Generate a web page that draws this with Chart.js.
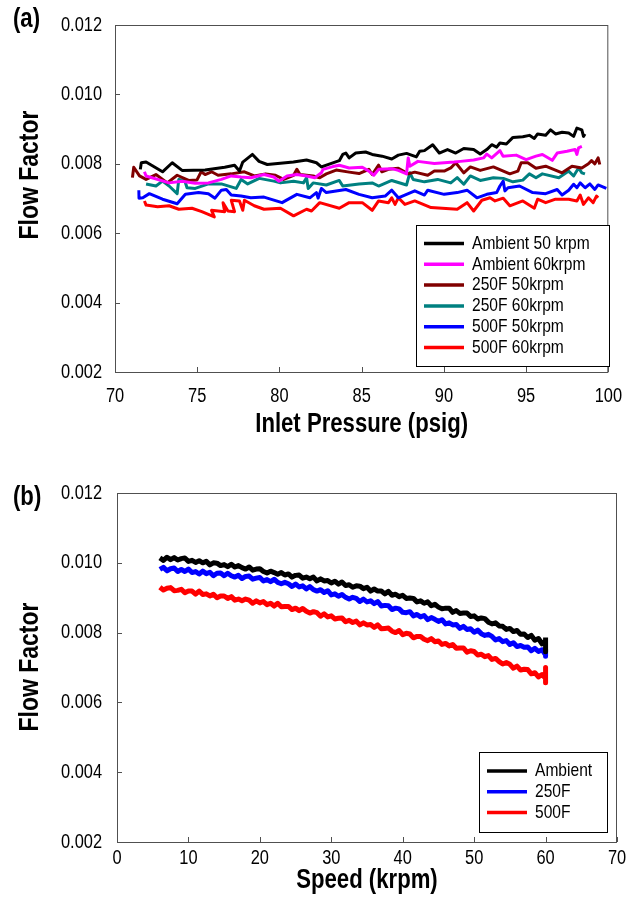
<!DOCTYPE html>
<html>
<head>
<meta charset="utf-8">
<script src="https://cdn.jsdelivr.net/npm/chart.js@4.4.0/dist/chart.umd.min.js"></script>
<style>
  body { margin: 0; background: #fff; width: 637px; height: 910px; position: relative; overflow: hidden; }
  canvas { position: absolute; left: 0; }
  #chartA { top: 0; }
  #chartB { top: 455px; }
  .panel { position: absolute; left: 13px; font-family: "Liberation Sans", Arial, sans-serif; font-weight: bold; font-size: 27px; line-height: 27px; color: #000; transform: scaleX(0.82); transform-origin: left top; }
</style>
</head>
<body>
<canvas id="chartA" width="637" height="455"></canvas>
<canvas id="chartB" width="637" height="455"></canvas>
<div class="panel" style="top:5px">(a)</div>
<div class="panel" style="top:483px">(b)</div>
<script>
// tick labels
const flowTicks = [0.002, 0.004, 0.006, 0.008, 0.010, 0.012];
const pressureTicks = [70, 75, 80, 85, 90, 95, 100];
const speedTicks = [0, 10, 20, 30, 40, 50, 60, 70];

// (a) flow factor vs inlet pressure
const amb50Psi = [71.54,71.60,71.89,72.89,73.48,74.08,75.48,76.67,77.27,77.57,77.77,78.36,78.76,79.26,80.85,81.65,82.25,82.55,83.64,83.85,84.04,84.24,84.64,85.24,85.64,86.24,86.83,87.23,87.73,88.33,88.53,88.82,89.32,89.72,90.22,90.72,91.21,91.81,92.21,92.61,92.91,93.21,93.41,93.80,94.20,94.80,95.20,95.50,95.70,96.19,96.49,96.79,97.19,97.59,97.89,98.09,98.39,98.49,98.58];
const amb50Flow = [0.00784,0.00803,0.00805,0.00777,0.00803,0.00781,0.00782,0.00790,0.00796,0.00779,0.00805,0.00827,0.00807,0.00798,0.00805,0.00811,0.00803,0.00791,0.00809,0.00827,0.00831,0.00817,0.00831,0.00834,0.00827,0.00822,0.00814,0.00825,0.00830,0.00820,0.00836,0.00838,0.00855,0.00831,0.00841,0.00831,0.00844,0.00841,0.00828,0.00841,0.00855,0.00848,0.00860,0.00857,0.00876,0.00878,0.00882,0.00873,0.00886,0.00882,0.00898,0.00886,0.00891,0.00889,0.00879,0.00903,0.00898,0.00879,0.00886];

const amb60Psi = [71.79,71.89,73.29,74.08,74.88,75.68,76.47,77.07,77.67,78.26,79.06,79.66,79.96,80.46,81.06,81.65,82.15,82.55,82.65,83.25,83.64,84.24,85.04,85.44,85.74,86.03,86.83,87.23,87.73,87.83,87.93,88.42,89.42,90.62,91.01,91.81,92.41,92.61,92.91,93.41,93.60,94.40,95.00,95.60,95.99,96.59,96.89,97.49,97.98,98.09,98.19,98.39];
const amb60Flow = [0.00777,0.00765,0.00745,0.00750,0.00744,0.00745,0.00755,0.00765,0.00762,0.00760,0.00769,0.00762,0.00750,0.00765,0.00769,0.00765,0.00760,0.00774,0.00784,0.00792,0.00796,0.00788,0.00790,0.00779,0.00767,0.00784,0.00786,0.00781,0.00771,0.00817,0.00793,0.00807,0.00801,0.00805,0.00807,0.00811,0.00817,0.00828,0.00817,0.00838,0.00822,0.00825,0.00812,0.00822,0.00827,0.00810,0.00831,0.00836,0.00841,0.00827,0.00846,0.00850];

const f250at50Psi = [71.06,71.14,71.49,71.89,72.49,73.18,73.78,74.48,74.98,75.24,75.48,75.87,76.27,77.07,77.87,78.47,79.16,79.76,80.26,80.86,81.06,81.25,82.05,82.45,82.85,83.45,84.24,84.84,85.44,85.64,86.03,86.23,86.63,87.23,87.83,88.23,89.02,89.42,90.02,90.42,90.72,91.21,91.61,92.21,93.01,94.01,94.50,94.70,95.10,95.60,96.19,97.19,97.79,98.39,98.79,98.98,99.18,99.38,99.48];
const f250at50Flow = [0.00760,0.00790,0.00765,0.00755,0.00769,0.00745,0.00767,0.00752,0.00753,0.00777,0.00769,0.00777,0.00767,0.00771,0.00777,0.00765,0.00771,0.00767,0.00755,0.00767,0.00784,0.00769,0.00765,0.00760,0.00771,0.00782,0.00776,0.00772,0.00784,0.00769,0.00796,0.00777,0.00784,0.00787,0.00771,0.00776,0.00767,0.00779,0.00779,0.00788,0.00803,0.00774,0.00791,0.00781,0.00791,0.00771,0.00779,0.00803,0.00803,0.00787,0.00793,0.00774,0.00793,0.00788,0.00800,0.00809,0.00800,0.00817,0.00798];

const f250at60Psi = [71.89,72.49,72.89,73.29,73.78,73.88,74.24,74.38,74.88,75.68,76.47,77.37,77.67,78.07,78.77,79.66,80.06,80.86,81.46,81.65,81.75,82.05,82.85,83.64,83.85,84.84,85.64,86.03,86.83,87.73,87.93,88.13,88.82,89.62,90.42,90.81,91.21,91.61,92.21,93.01,93.61,94.20,94.80,95.20,95.60,95.99,96.99,97.59,97.89,98.19,98.39,98.58];
const f250at60Flow = [0.00742,0.00736,0.00750,0.00736,0.00714,0.00755,0.00752,0.00731,0.00729,0.00742,0.00742,0.00729,0.00755,0.00742,0.00758,0.00750,0.00745,0.00750,0.00745,0.00760,0.00729,0.00745,0.00739,0.00752,0.00736,0.00742,0.00745,0.00736,0.00752,0.00739,0.00774,0.00755,0.00748,0.00755,0.00745,0.00760,0.00741,0.00765,0.00752,0.00760,0.00758,0.00748,0.00753,0.00771,0.00760,0.00771,0.00760,0.00779,0.00765,0.00788,0.00774,0.00771];

const f500at50Psi = [71.45,71.46,71.69,72.09,72.89,73.78,74.28,75.08,75.68,76.08,76.47,76.77,77.07,77.67,78.26,79.06,80.16,81.06,81.85,82.25,82.35,82.55,82.85,84.04,84.84,85.64,86.43,86.83,87.23,88.23,88.82,89.02,90.02,90.81,91.41,92.01,92.61,93.21,93.41,93.61,93.71,93.90,94.60,95.40,96.19,96.89,97.19,97.59,97.89,98.09,98.29,98.59,98.88,99.18,99.38,99.88];
const f500at50Flow = [0.00724,0.00701,0.00702,0.00714,0.00698,0.00685,0.00712,0.00717,0.00714,0.00701,0.00724,0.00726,0.00710,0.00707,0.00702,0.00704,0.00688,0.00712,0.00702,0.00717,0.00701,0.00729,0.00717,0.00726,0.00712,0.00702,0.00707,0.00724,0.00702,0.00722,0.00710,0.00724,0.00712,0.00717,0.00724,0.00702,0.00712,0.00717,0.00736,0.00750,0.00722,0.00731,0.00736,0.00717,0.00714,0.00726,0.00710,0.00724,0.00741,0.00731,0.00745,0.00731,0.00742,0.00726,0.00739,0.00729];

const f500at60Psi = [71.79,71.89,72.59,73.29,73.88,74.68,75.28,76.04,75.87,76.67,76.57,76.87,77.27,77.07,77.57,77.77,77.87,78.47,79.06,80.06,80.86,81.65,81.95,82.45,83.64,84.24,85.04,85.64,86.03,86.63,86.83,87.03,87.23,87.63,88.23,89.22,90.81,91.41,91.81,92.31,92.81,93.11,93.61,94.01,94.80,95.50,95.70,96.19,96.79,97.59,98.09,98.29,98.49,98.79,99.08,99.28,99.38];
const f500at60Flow = [0.00693,0.00681,0.00676,0.00679,0.00669,0.00672,0.00662,0.00647,0.00666,0.00662,0.00688,0.00664,0.00662,0.00695,0.00693,0.00666,0.00695,0.00679,0.00669,0.00672,0.00650,0.00669,0.00664,0.00688,0.00672,0.00688,0.00688,0.00666,0.00693,0.00688,0.00702,0.00683,0.00702,0.00683,0.00693,0.00674,0.00669,0.00688,0.00664,0.00695,0.00702,0.00693,0.00701,0.00679,0.00693,0.00672,0.00698,0.00688,0.00698,0.00698,0.00693,0.00710,0.00683,0.00702,0.00688,0.00707,0.00702];

// (b) flow factor vs speed
const speedKrpm = [6,6.5,7,7.5,8,8.5,9,9.5,10,10.5,11,11.5,12,12.5,13,13.5,14,14.5,15,15.5,16,16.5,17,17.5,18,18.5,19,19.5,20,20.5,21,21.5,22,22.5,23,23.5,24,24.5,25,25.5,26,26.5,27,27.5,28,28.5,29,29.5,30,30.5,31,31.5,32,32.5,33,33.5,34,34.5,35,35.5,36,36.5,37,37.5,38,38.5,39,39.5,40,40.5,41,41.5,42,42.5,43,43.5,44,44.5,45,45.5,46,46.5,47,47.5,48,48.5,49,49.5,50,50.5,51,51.5,52,52.5,53,53.5,54,54.5,55,55.5,56,56.5,57,57.5,58,58.5,59,59.5,60,60,60];
const ambientFlow = [0.01014,0.01007,0.01016,0.01009,0.01015,0.01008,0.01012,0.01014,0.01004,0.01007,
  0.01001,0.01006,0.01000,0.01004,0.00994,0.01000,0.00999,0.00992,0.00995,0.00989,
  0.00996,0.00988,0.00992,0.00986,0.00982,0.00988,0.00979,0.00982,0.00983,0.00975,
  0.00971,0.00976,0.00972,0.00967,0.00972,0.00965,0.00968,0.00959,0.00964,0.00965,
  0.00956,0.00959,0.00954,0.00959,0.00948,0.00954,0.00948,0.00949,0.00942,0.00947,
  0.00939,0.00945,0.00935,0.00937,0.00930,0.00934,0.00933,0.00926,0.00930,0.00919,
  0.00925,0.00919,0.00919,0.00911,0.00918,0.00907,0.00910,0.00903,0.00907,0.00898,
  0.00899,0.00898,0.00888,0.00891,0.00884,0.00888,0.00877,0.00881,0.00873,0.00868,
  0.00870,0.00870,0.00858,0.00863,0.00855,0.00856,0.00856,0.00846,0.00848,0.00839,
  0.00842,0.00840,0.00830,0.00825,0.00828,0.00819,0.00818,0.00809,0.00812,0.00803,
  0.00806,0.00795,0.00796,0.00786,0.00792,0.00778,0.00783,0.00768,0.00777,0.00745,0.00786];
const f250Flow = [0.00981,0.00987,0.00977,0.00983,0.00985,0.00975,0.00981,0.00975,0.00982,0.00972,
  0.00975,0.00968,0.00976,0.00969,0.00973,0.00963,0.00970,0.00971,0.00963,0.00970,
  0.00963,0.00959,0.00964,0.00955,0.00961,0.00962,0.00953,0.00956,0.00958,0.00948,
  0.00952,0.00946,0.00953,0.00944,0.00940,0.00944,0.00940,0.00932,0.00939,0.00931,
  0.00934,0.00925,0.00932,0.00923,0.00919,0.00923,0.00915,0.00920,0.00908,0.00911,
  0.00904,0.00909,0.00901,0.00896,0.00901,0.00898,0.00889,0.00896,0.00888,0.00891,
  0.00883,0.00889,0.00876,0.00878,0.00877,0.00866,0.00870,0.00868,0.00858,0.00857,
  0.00860,0.00848,0.00852,0.00845,0.00849,0.00837,0.00843,0.00838,0.00832,0.00837,
  0.00825,0.00828,0.00822,0.00823,0.00812,0.00818,0.00809,0.00811,0.00801,0.00807,
  0.00797,0.00792,0.00795,0.00789,0.00779,0.00783,0.00774,0.00777,0.00766,0.00771,
  0.00760,0.00763,0.00758,0.00759,0.00748,0.00755,0.00746,0.00751,0.00736,0.00752,0.00732];
const f500Flow = [0.00930,0.00922,0.00927,0.00929,0.00920,0.00921,0.00924,0.00914,0.00919,0.00919,
  0.00910,0.00919,0.00909,0.00911,0.00905,0.00910,0.00900,0.00905,0.00905,0.00898,
  0.00903,0.00893,0.00896,0.00891,0.00896,0.00893,0.00884,0.00891,0.00885,0.00889,
  0.00880,0.00884,0.00876,0.00884,0.00874,0.00875,0.00875,0.00866,0.00870,0.00863,
  0.00869,0.00861,0.00856,0.00860,0.00857,0.00847,0.00854,0.00845,0.00848,0.00839,
  0.00841,0.00842,0.00831,0.00835,0.00829,0.00833,0.00822,0.00828,0.00822,0.00823,
  0.00815,0.00822,0.00811,0.00812,0.00813,0.00804,0.00800,0.00806,0.00794,0.00798,
  0.00796,0.00785,0.00789,0.00789,0.00781,0.00777,0.00783,0.00774,0.00776,0.00766,
  0.00769,0.00762,0.00766,0.00755,0.00756,0.00756,0.00744,0.00748,0.00746,0.00736,
  0.00738,0.00731,0.00734,0.00723,0.00726,0.00717,0.00710,0.00714,0.00709,0.00698,
  0.00704,0.00693,0.00695,0.00694,0.00682,0.00685,0.00673,0.00680,0.00669,0.00700,0.00656];

const FONT = '"Liberation Sans", Arial, sans-serif';
const SQUEEZE = 0.82; // the original lettering is a narrow face
Chart.defaults.font.family = FONT;
Chart.defaults.color = '#000';

function pairs(xs, ys) {
  return xs.map((x, i) => ({ x: x, y: ys[i] }));
}

function line(label, color, xs, ys, width) {
  return {
    label: label,
    data: pairs(xs, ys),
    borderColor: color,
    backgroundColor: color,
    borderWidth: width,
    pointRadius: 0,
    tension: 0,
    borderJoinStyle: 'round',
    fill: false
  };
}

// draws all canvas text horizontally squeezed, like a narrow font
const narrowText = {
  id: 'narrowText',
  beforeDraw(chart) {
    const ctx = chart.ctx;
    if (ctx.squeezed) return;
    const fill = ctx.fillText.bind(ctx);
    ctx.fillText = function (text, x, y) {
      this.save();
      this.translate(x, y);
      this.scale(SQUEEZE, 1);
      fill(text, 0, 0);
      this.restore();
    };
    ctx.squeezed = true;
  }
};

// border box, inward tick marks, boxed legend and y title
const framePlugin = {
  id: 'frame',
  afterDatasetsDraw(chart, args, opts) {
    const { ctx, chartArea: a, scales } = chart;
    ctx.save();
    ctx.strokeStyle = '#505050';
    ctx.lineWidth = 1;
    ctx.strokeRect(a.left + 0.5, a.top + 0.5, a.right - a.left - 1, a.bottom - a.top);
    ctx.beginPath();
    scales.x.ticks.forEach((t, i) => {
      const px = Math.round(scales.x.getPixelForTick(i)) + 0.5;
      ctx.moveTo(px, a.bottom);
      ctx.lineTo(px, a.bottom - opts.tick);
    });
    scales.y.ticks.forEach((t, i) => {
      const py = Math.round(scales.y.getPixelForTick(i)) + 0.5;
      ctx.moveTo(a.left, py);
      ctx.lineTo(a.left + opts.tick, py);
    });
    ctx.stroke();

    const L = opts.legend;
    ctx.fillStyle = '#fff';
    ctx.fillRect(L.x, L.y, L.w, L.h);
    ctx.strokeStyle = '#000';
    ctx.strokeRect(L.x + 0.5, L.y + 0.5, L.w, L.h);
    ctx.font = '19px ' + FONT;
    ctx.textBaseline = 'middle';
    ctx.textAlign = 'left';
    chart.data.datasets.forEach((ds, i) => {
      const y = L.y + L.first + i * L.step;
      ctx.strokeStyle = ds.borderColor;
      ctx.lineWidth = 3.5;
      ctx.beginPath();
      ctx.moveTo(L.x + 8, y);
      ctx.lineTo(L.x + 48, y);
      ctx.stroke();
      ctx.fillStyle = '#000';
      ctx.fillText(ds.label, L.x + 56, y);
    });

    const T = opts.yTitle;
    ctx.translate(T.x, T.y);
    ctx.rotate(-Math.PI / 2);
    ctx.font = 'bold 28px ' + FONT;
    ctx.textAlign = 'center';
    ctx.fillStyle = '#000';
    ctx.fillText(T.text, 0, 0);
    ctx.restore();
  }
};

function axes(xMin, xMax, xTicks, xTitle, dims) {
  return {
    x: {
      type: 'linear', min: xMin, max: xMax,
      afterBuildTicks: s => { s.ticks = xTicks.map(v => ({ value: v })); },
      afterFit: s => { s.height = dims.xHeight; },
      grid: { display: false, drawTicks: false },
      border: { display: false },
      ticks: { padding: dims.xPad, font: { size: 20 }, color: '#000', maxRotation: 0, minRotation: 0, autoSkip: false },
      title: { display: true, text: xTitle, color: '#000', font: { size: 27, weight: 'bold' }, padding: { top: 0, bottom: dims.titlePad } }
    },
    y: {
      type: 'linear', min: 0.002, max: 0.012,
      afterBuildTicks: s => { s.ticks = flowTicks.map(v => ({ value: v })); },
      afterFit: s => { s.width = dims.yWidth; },
      grid: { display: false, drawTicks: false },
      border: { display: false },
      ticks: { padding: dims.yPad, font: { size: 20 }, color: '#000', callback: v => v.toFixed(3) }
    }
  };
}

new Chart(document.getElementById('chartA'), {
  type: 'line',
  data: {
    datasets: [
      line('Ambient 50 krpm', '#000000', amb50Psi, amb50Flow, 3),
      line('Ambient 60krpm', '#ff00ff', amb60Psi, amb60Flow, 3),
      line('250F 50krpm', '#800000', f250at50Psi, f250at50Flow, 3),
      line('250F 60krpm', '#008080', f250at60Psi, f250at60Flow, 3),
      line('500F 50krpm', '#0000ff', f500at50Psi, f500at50Flow, 3),
      line('500F 60krpm', '#ff0000', f500at60Psi, f500at60Flow, 3)
    ]
  },
  options: {
    responsive: false,
    animation: false,
    devicePixelRatio: 1,
    layout: { padding: { top: 23, right: 20, left: 0, bottom: 0 } },
    scales: axes(70, 100, pressureTicks, 'Inlet Pressure (psig)', { xHeight: 83, yWidth: 115, xPad: 12, yPad: 13, titlePad: 14 }),
    plugins: {
      legend: { display: false },
      tooltip: { enabled: false },
      frame: {
        tick: 5,
        legend: { x: 416, y: 225, w: 193, h: 141, first: 18.5, step: 20.8 },
        yTitle: { text: 'Flow Factor', x: 30, y: 175 }
      }
    }
  },
  plugins: [narrowText, framePlugin]
});

new Chart(document.getElementById('chartB'), {
  type: 'line',
  data: {
    datasets: [
      line('Ambient', '#000000', speedKrpm, ambientFlow, 5),
      line('250F', '#0000ff', speedKrpm, f250Flow, 5),
      line('500F', '#ff0000', speedKrpm, f500Flow, 5)
    ]
  },
  options: {
    responsive: false,
    animation: false,
    devicePixelRatio: 1,
    layout: { padding: { top: 38, right: 20, left: 0, bottom: 0 } },
    scales: axes(0, 70, speedTicks, 'Speed (krpm)', { xHeight: 68, yWidth: 117, xPad: 4, yPad: 15, titlePad: 13 }),
    plugins: {
      legend: { display: false },
      tooltip: { enabled: false },
      frame: {
        tick: 5,
        legend: { x: 479, y: 297, w: 128, h: 80, first: 19, step: 20.7 },
        yTitle: { text: 'Flow Factor', x: 30, y: 212 }
      }
    }
  },
  plugins: [narrowText, framePlugin]
});
</script>
</body>
</html>
